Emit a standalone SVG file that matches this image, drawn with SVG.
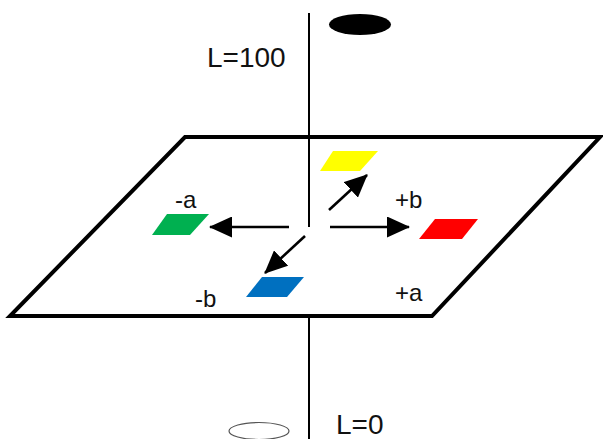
<svg xmlns="http://www.w3.org/2000/svg" width="603" height="439" viewBox="0 0 603 439">
  <style>
    .axis { stroke: #000; stroke-width: 2; fill: none; }
    .plane { stroke: #000; stroke-width: 4; fill: #fff; stroke-linejoin: miter; }
    .arrow { stroke: #000; stroke-width: 2.6; fill: none; marker-end: url(#head); }
    .lbl { font-family: "Liberation Sans", Arial, sans-serif; font-size: 24px; fill: #111; }
    .big { font-size: 28px; }
  </style>
  <defs>
    <marker id="head" markerUnits="userSpaceOnUse" markerWidth="23" markerHeight="21" refX="22" refY="10.5" orient="auto">
      <path d="M0,0 L23,10.5 L0,21 z" fill="#000"/>
    </marker>
  </defs>
  <rect width="603" height="439" fill="#fff"/>

  <!-- lightness axis, lower segment below the plane -->
  <line class="axis" x1="309" y1="316" x2="309" y2="439"/>

  <!-- a/b colour plane -->
  <g id="plane">
    <polygon class="plane" points="185,137 600,137 432,316 10,316"/>
  </g>

  <!-- lightness axis, upper segment down to the plane centre -->
  <line class="axis" x1="309" y1="13" x2="309" y2="227"/>

  <g id="white-pole">
    <ellipse cx="259" cy="431" rx="30" ry="8.5" fill="#fff" stroke="#555" stroke-width="1.2"/>
    <text class="lbl big" x="336" y="434">L=0</text>
  </g>
  <g id="black-pole">
    <ellipse cx="360" cy="24.5" rx="31" ry="10.5" fill="#000"/>
    <text class="lbl big" x="207" y="67">L=100</text>
  </g>

  <g id="yellow">
    <polygon points="320,171 333,151 378,151 360,171" fill="#ffff00"/>
  </g>
  <g id="red">
    <polygon points="419,239 435,219 478,219 462,239" fill="#ff0000"/>
    <text class="lbl" x="395" y="208">+b</text>
  </g>
  <g id="green">
    <polygon points="152,235 167,214 209,214 190,235" fill="#00b050"/>
    <text class="lbl" x="175" y="208">-a</text>
  </g>
  <g id="blue">
    <polygon points="246,297 262,277 304,277 287,297" fill="#0070c0"/>
    <text class="lbl" x="195" y="307">-b</text>
  </g>
  <g id="plus-a">
    <text class="lbl" x="395" y="301">+a</text>
  </g>

  <g id="connectors">
    <line class="arrow" x1="329" y1="210" x2="367" y2="175"/>
    <line class="arrow" x1="289" y1="227" x2="210" y2="227"/>
    <line class="arrow" x1="330" y1="227" x2="409" y2="227"/>
    <line class="arrow" x1="305" y1="236" x2="265" y2="273"/>
  </g>
</svg>
